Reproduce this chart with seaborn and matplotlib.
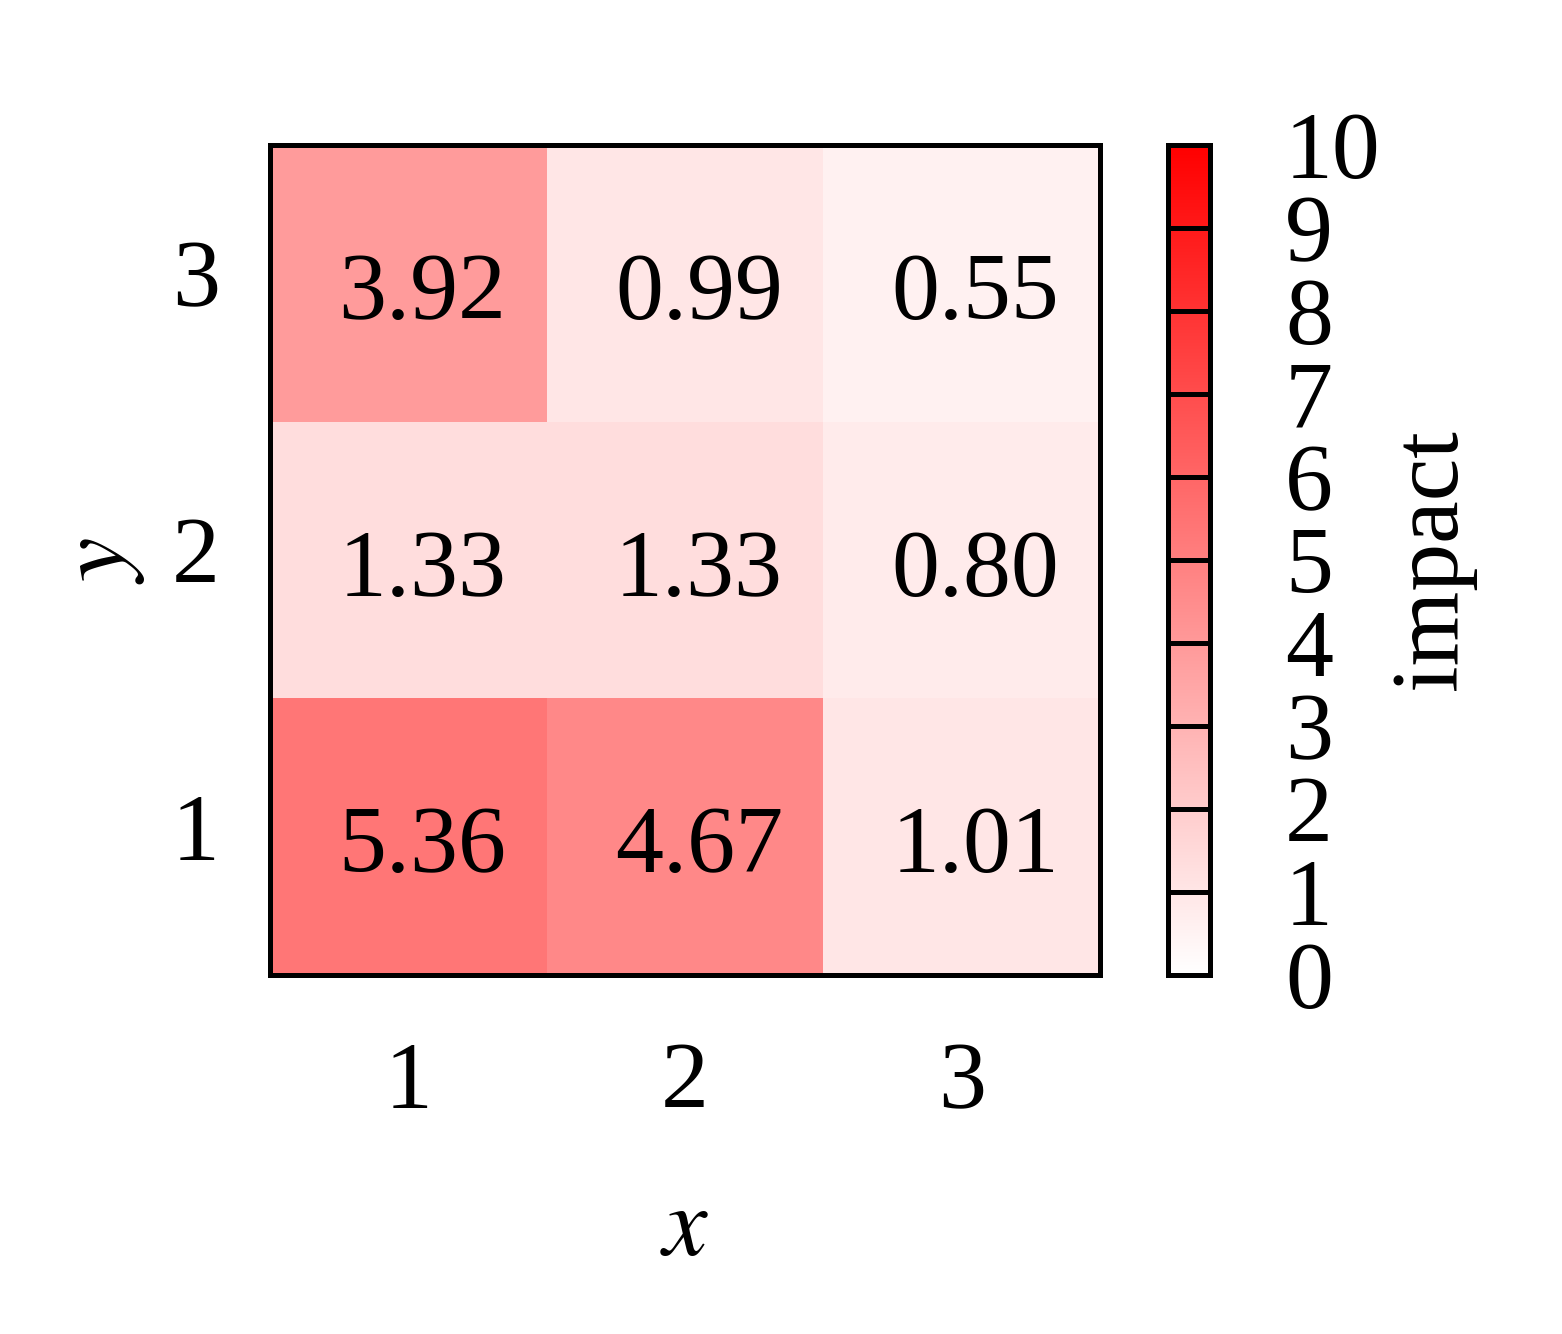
import numpy as np
import pandas as pd
import seaborn as sns
import matplotlib.pyplot as plt
from matplotlib.colors import LinearSegmentedColormap

sns.set_style("white")
plt.rcParams['font.family'] = 'serif'
plt.rcParams['font.serif'] = ['Liberation Serif', 'DejaVu Serif']
plt.rcParams['mathtext.fontset'] = 'stix'
for k in ['text.color', 'axes.labelcolor', 'xtick.color', 'ytick.color']:
    plt.rcParams[k] = 'black'

x_labels = ["1", "2", "3"]
y_labels = ["3", "2", "1"]
impact = [
    [3.92, 0.99, 0.55],
    [1.33, 1.33, 0.80],
    [5.36, 4.67, 1.01],
]
cbar_ticks = [0, 1, 2, 3, 4, 5, 6, 7, 8, 9, 10]

FS = 23

df = pd.DataFrame(impact, index=y_labels, columns=x_labels)
cmap = LinearSegmentedColormap.from_list("wr", ["#ffffff", "#ff0000"])

fig = plt.figure(figsize=(1562 / 300, 1334 / 300), dpi=300)
ax = fig.add_axes([270 / 1562, 1 - 975 / 1334, 830 / 1562, 830 / 1334])
cax = fig.add_axes([1168 / 1562, 1 - 975 / 1334, 42 / 1562, 830 / 1334])

sns.heatmap(df, ax=ax, cbar_ax=cax, cmap=cmap, vmin=0, vmax=10,
            annot=True, fmt=".2f", annot_kws={"fontsize": FS, "color": "black"},
            cbar_kws={"ticks": cbar_ticks})
# annotations sit a touch right/low of centre in the original
for t in ax.texts:
    x, y = t.get_position()
    t.set_position((x + 0.05, y + 0.045))

for s in ax.spines.values():
    s.set_visible(True)
    s.set_linewidth(1.2)
    s.set_color("black")
ax.tick_params(axis="both", direction="in", length=2, width=1, labelsize=FS,
               pad=12, right=True, top=True, left=True, bottom=True)
ax.tick_params(axis="x", pad=16)
ax.set_yticklabels(y_labels, rotation=0)
ax.set_xticklabels(x_labels, rotation=0)
ax.set_xlabel("$x$", fontsize=FS + 1, labelpad=14)
ax.set_ylabel("$y$", fontsize=FS + 1, labelpad=6)

cax.tick_params(length=0, labelsize=FS, pad=18)
for s in cax.spines.values():
    s.set_visible(True)
    s.set_linewidth(1.2)
    s.set_color("black")
for t in cbar_ticks[1:-1]:
    cax.axhline(t, color="black", lw=1.2)
cax.set_ylabel("impact", fontsize=FS, labelpad=2)

fig.savefig("out.png", dpi=300)
